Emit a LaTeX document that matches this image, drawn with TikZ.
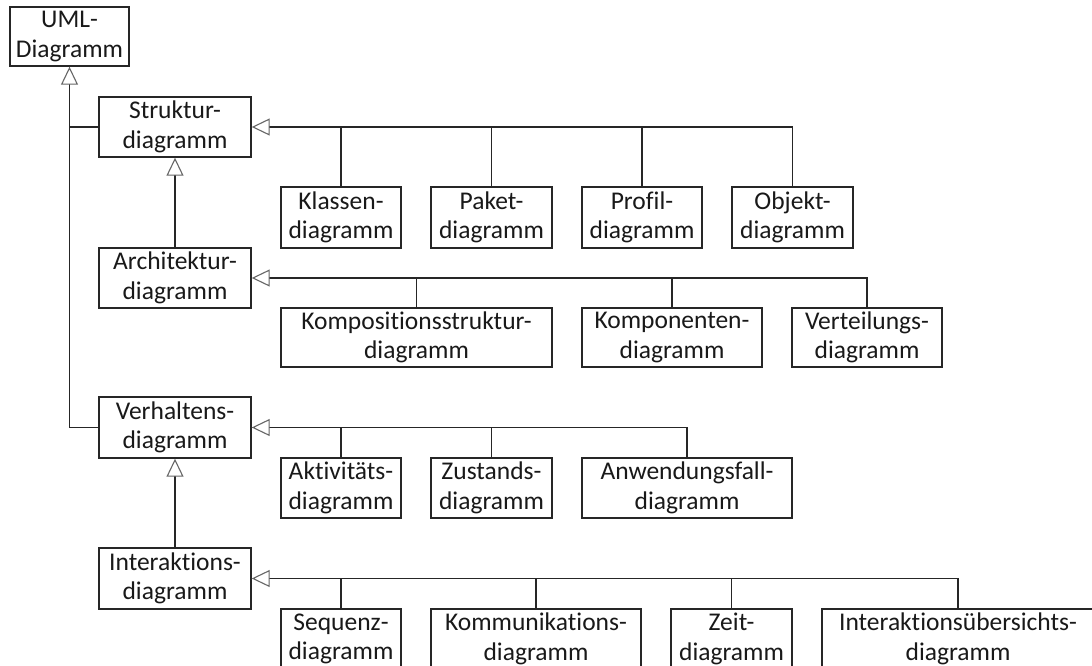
\documentclass[tikz,border=0pt]{standalone}
\usepackage{fontspec}
\setmainfont{Carlito}[Ligatures={NoCommon}]
\usetikzlibrary{arrows.meta}
\begin{document}
\begin{tikzpicture}[x=1pt,y=-1pt,
  box/.style={draw=black!85, line width=1.4pt, rectangle, align=center, inner sep=0pt,
    font=\fontsize{25.5}{29.5}\selectfont, text=black!90},
  link/.style={draw=black!85, line width=1.4pt},
  gen/.style={link, -{Triangle[open, length=18pt, width=17pt, line width=1.1pt, color=black!60, fill=white]}}
]
\useasboundingbox[fill=white] (0,0) rectangle (1092,666);
\node[box, minimum width=119pt, minimum height=59pt] (uml) at (69.5,36.5) {UML-\\Diagramm};
\node[box, minimum width=152pt, minimum height=60pt] (struktur) at (175,127) {Struktur-\\diagramm};
\node[box, minimum width=120pt, minimum height=61pt] (klassen) at (341,217.5) {Klassen-\\diagramm};
\node[box, minimum width=121pt, minimum height=61pt] (paket) at (491.5,217.5) {Paket-\\diagramm};
\node[box, minimum width=120pt, minimum height=61pt] (profil) at (642,217.5) {Profil-\\diagramm};
\node[box, minimum width=121pt, minimum height=61pt] (objekt) at (792.5,217.5) {Objekt-\\diagramm};
\node[box, minimum width=152pt, minimum height=60pt] (architektur) at (175,278) {Architektur-\\diagramm};
\node[box, minimum width=271pt, minimum height=59pt] (kompo) at (416.5,337.5) {Kompositionsstruktur-\\diagramm};
\node[box, minimum width=180pt, minimum height=59pt] (komponenten) at (672,337.5) {Komponenten-\\diagramm};
\node[box, minimum width=150pt, minimum height=59pt] (verteilung) at (867,337.5) {Verteilungs-\\diagramm};
\node[box, minimum width=152pt, minimum height=61pt] (verhalten) at (175,427.5) {Verhaltens-\\diagramm};
\node[box, minimum width=120pt, minimum height=60pt] (aktiv) at (341,488) {Aktivitäts-\\diagramm};
\node[box, minimum width=121pt, minimum height=60pt] (zustand) at (491.5,488) {Zustands-\\diagramm};
\node[box, minimum width=210pt, minimum height=60pt] (anwend) at (687,488) {Anwendungsfall-\\diagramm};
\node[box, minimum width=152pt, minimum height=61pt] (interakt) at (175,578.5) {Interaktions-\\diagramm};
\node[box, minimum width=120pt, minimum height=60pt] (sequenz) at (341,639) {Sequenz-\\diagramm};
\node[box, minimum width=210pt, minimum height=60pt] (kommu) at (536,639) {Kommunikations-\\diagramm};
\node[box, minimum width=121pt, minimum height=60pt] (zeit) at (731.5,639) {Zeit-\\diagramm};
\node[box, minimum width=272pt, minimum height=60pt] (ueber) at (958,639) {Interaktionsübersichts-\\diagramm};
% trunk
\draw[gen] (verhalten.west) -| (uml.south);
\draw[link] (struktur.west) -- (struktur.west -| uml.south);
% struktur
\draw[gen] (architektur.north) -- (struktur.south);
\draw[gen] (objekt.north) |- (struktur.east);
\foreach \n in {klassen,paket,profil} \draw[link] (\n.north) -- (\n.north |- struktur.east);
% architektur
\draw[gen] (verteilung.north) |- (architektur.east);
\foreach \n in {kompo,komponenten} \draw[link] (\n.north) -- (\n.north |- architektur.east);
% verhalten
\draw[gen] (interakt.north) -- (verhalten.south);
\draw[gen] (anwend.north) |- (verhalten.east);
\foreach \n in {aktiv,zustand} \draw[link] (\n.north) -- (\n.north |- verhalten.east);
% interaktion
\draw[gen] (ueber.north) |- (interakt.east);
\foreach \n in {sequenz,kommu,zeit} \draw[link] (\n.north) -- (\n.north |- interakt.east);
\end{tikzpicture}
\end{document}
